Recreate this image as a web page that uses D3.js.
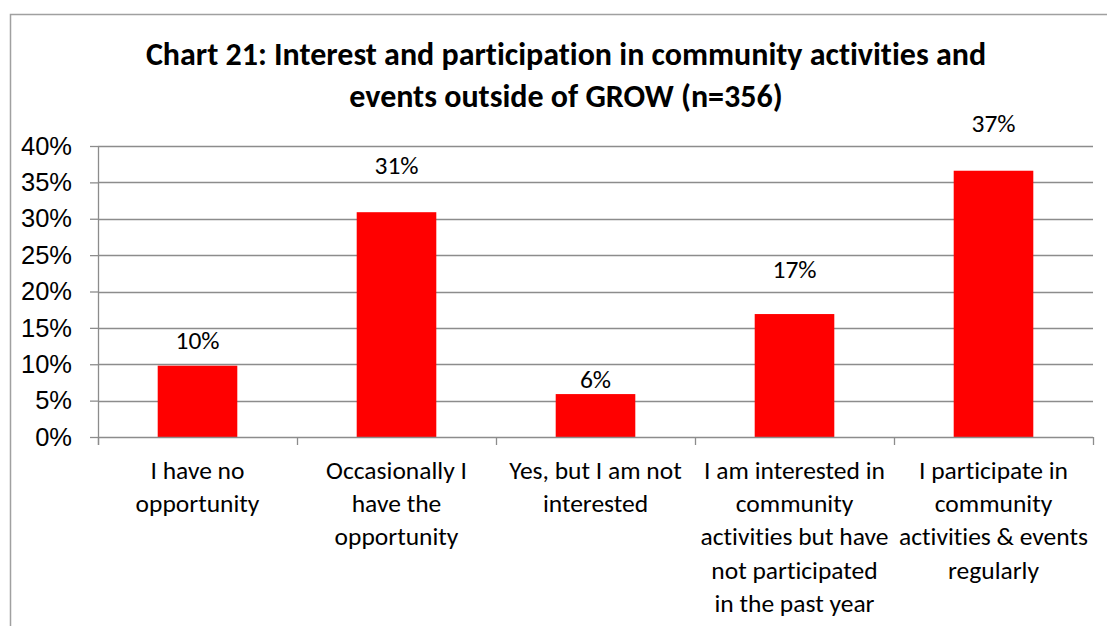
<!DOCTYPE html>
<html>
<head>
<meta charset="utf-8">
<script src="https://cdn.jsdelivr.net/npm/d3@7"></script>
<style>
  html, body { margin: 0; padding: 0; background: #fff; }
  svg { display: block; font-family: Carlito, Calibri, Lato, "Open Sans", sans-serif; font-variant-ligatures: none; }
</style>
</head>
<body>
<svg id="chart" width="1107" height="626"></svg>
<script>
// Survey responses: share of respondents per answer
const categories = [
  "I have no\nopportunity",
  "Occasionally I\nhave the\nopportunity",
  "Yes, but I am not\ninterested",
  "I am interested in\ncommunity\nactivities but have\nnot participated\nin the past year",
  "I participate in\ncommunity\nactivities & events\nregularly"
];
const shares = [0.098, 0.309, 0.059, 0.169, 0.366];
const yTicks = [0, 0.05, 0.10, 0.15, 0.20, 0.25, 0.30, 0.35, 0.40];
const titleLines = [
  "Chart 21: Interest and participation in community activities and",
  "events outside of GROW (n=356)"
];

// Layout
const plot = { left: 98, right: 1093, top: 146, bottom: 437 };
// distance of each value label's centre above its bar top
const labelLift = [26, 47, 15, 45, 48];
const textSize = 25.5;

const svg = d3.select("#chart");

// chart frame (open on the right and bottom)
svg.append("path")
  .attr("d", "M10.5,626 V14.5 H1107")
  .attr("fill", "none")
  .attr("stroke", "#a0a0a0")
  .attr("stroke-width", 1.5);

// title
svg.append("g").selectAll("text")
  .data(titleLines)
  .join("text")
  .attr("x", 566)
  .attr("y", (d, i) => 65 + i * 42)
  .attr("text-anchor", "middle")
  .attr("font-weight", "bold")
  .attr("font-size", 32)
  .attr("fill", "#000")
  .text(d => d);

const x = d3.scaleBand()
  .domain(d3.range(categories.length))
  .range([plot.left, plot.right])
  .paddingInner(0.6)
  .paddingOuter(0.3);

const y = d3.scaleLinear()
  .domain([0, 0.40])
  .range([plot.bottom, plot.top]);

// horizontal gridlines
svg.append("g")
  .selectAll("line")
  .data(yTicks.slice(1))
  .join("line")
  .attr("x1", plot.left).attr("x2", plot.right)
  .attr("y1", d => Math.round(y(d)) + 0.5)
  .attr("y2", d => Math.round(y(d)) + 0.5)
  .attr("stroke", "#8c8c8c")
  .attr("stroke-width", 1.3);

// y axis
const yAxis = svg.append("g")
  .attr("transform", `translate(${plot.left},0)`)
  .call(d3.axisLeft(y).tickValues(yTicks).tickFormat(d3.format(".0%")).tickSize(8).tickPadding(18));
yAxis.select(".domain").attr("stroke", "#8c8c8c").attr("stroke-width", 1.3)
  .attr("d", `M0.5,${plot.top}V${plot.bottom + 8}`);
yAxis.selectAll(".tick line").attr("stroke", "#8c8c8c").attr("stroke-width", 1.3);
yAxis.selectAll(".tick text")
  .attr("font-family", null)
  .attr("font-size", textSize)
  .attr("fill", "#000");

// bars
svg.append("g")
  .selectAll("rect")
  .data(shares)
  .join("rect")
  .attr("x", (d, i) => x(i))
  .attr("y", d => y(d))
  .attr("width", x.bandwidth())
  .attr("height", d => y(0) - y(d))
  .attr("fill", "#ff0000");

// x axis with ticks at category boundaries
const step = x.step();
const boundaries = d3.range(categories.length + 1).map(i => plot.left + i * step);
const xAxisG = svg.append("g");
xAxisG.append("line")
  .attr("x1", plot.left).attr("x2", plot.right)
  .attr("y1", plot.bottom + 0.5).attr("y2", plot.bottom + 0.5)
  .attr("stroke", "#8c8c8c").attr("stroke-width", 1.3);
xAxisG.selectAll("line.tick")
  .data(boundaries)
  .join("line")
  .attr("class", "tick")
  .attr("x1", d => Math.round(d) + 0.5).attr("x2", d => Math.round(d) + 0.5)
  .attr("y1", plot.bottom).attr("y2", plot.bottom + 8)
  .attr("stroke", "#8c8c8c").attr("stroke-width", 1.3);

// category labels
const catG = svg.append("g");
categories.forEach((c, i) => {
  const t = catG.append("text")
    .attr("x", x(i) + x.bandwidth() / 2)
    .attr("y", 479)
    .attr("text-anchor", "middle")
    .attr("font-size", textSize)
    .attr("fill", "#000");
  c.split("\n").forEach((line, k) => {
    t.append("tspan")
      .attr("x", x(i) + x.bandwidth() / 2)
      .attr("dy", k === 0 ? 0 : 33.2)
      .text(line);
  });
});

// value labels
svg.append("g")
  .selectAll("text")
  .data(shares)
  .join("text")
  .attr("x", (d, i) => x(i) + x.bandwidth() / 2)
  .attr("y", (d, i) => y(d) - labelLift[i])
  .attr("dy", "0.35em")
  .attr("text-anchor", "middle")
  .attr("font-size", textSize)
  .attr("fill", "#000")
  .text(d => d3.format(".0%")(d));
</script>
</body>
</html>
